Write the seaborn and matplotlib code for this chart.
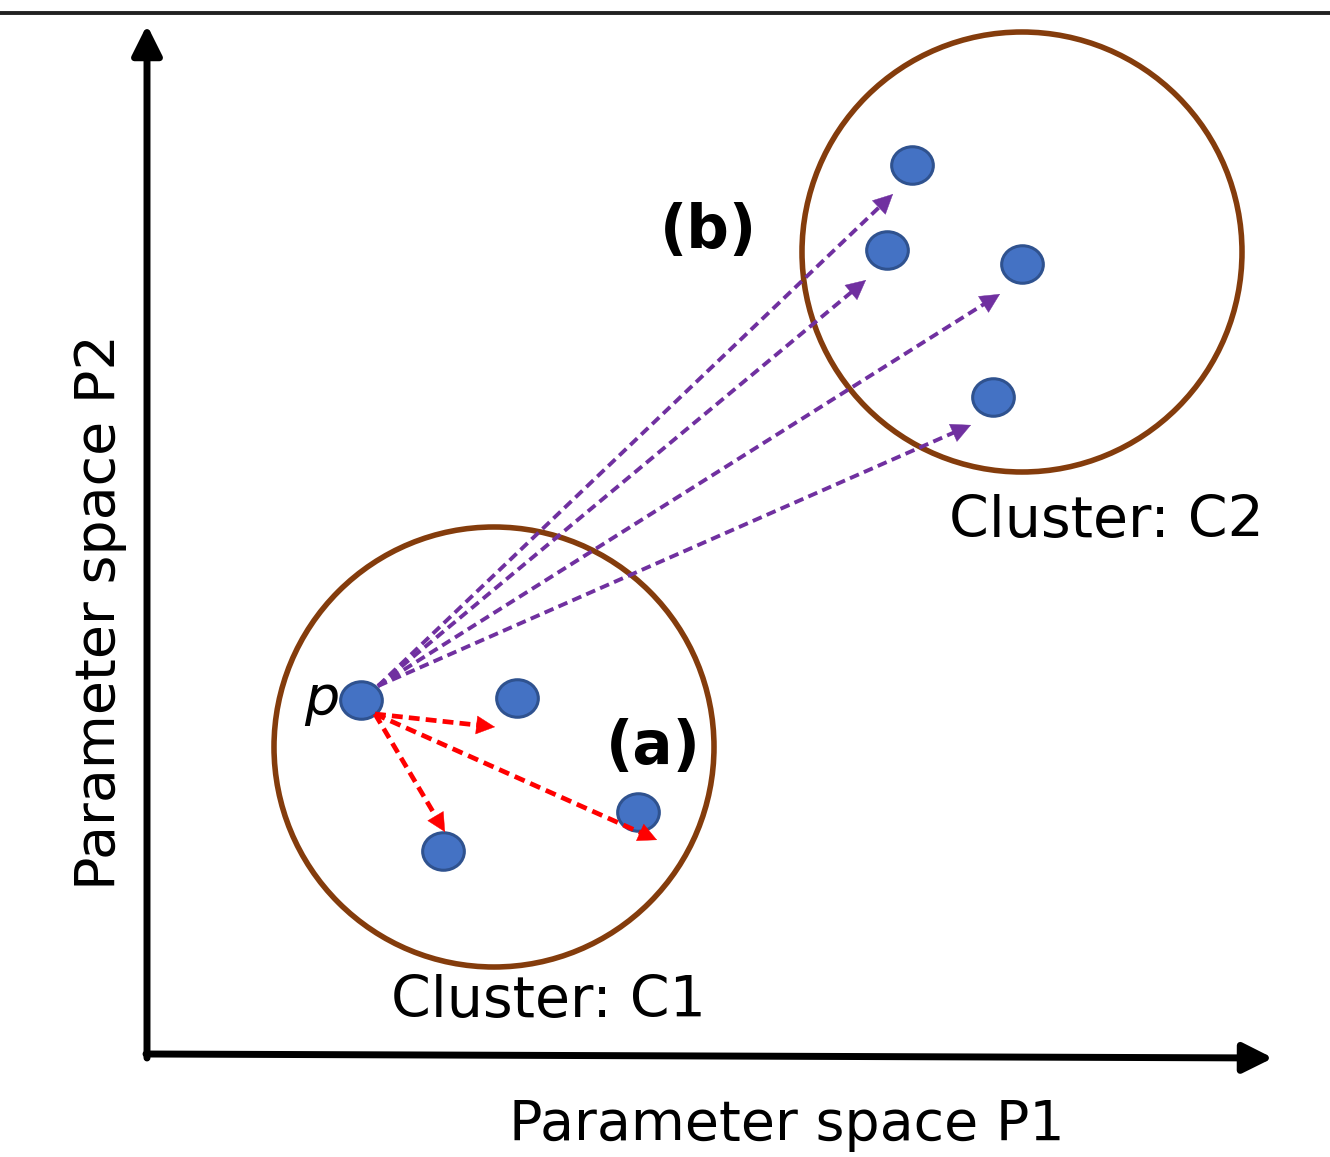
import numpy as np
import pandas as pd
import matplotlib
matplotlib.use("Agg")
import matplotlib.pyplot as plt
from matplotlib.patches import Circle
from matplotlib.path import Path
import seaborn as sns

sns.set_theme(style="white")
plt.rcParams["font.family"] = ["DejaVu Sans"]
plt.rcParams["text.color"] = "black"

# Sample points in the P1/P2 parameter plane (canvas pixel units, y downwards)
c1_x = [361, 517, 638, 443]
c1_y = [700, 698, 812, 851]
c2_x = [912, 887, 1022, 993]
c2_y = [165, 250, 264, 397]

# Cluster outlines: centre x, centre y, radius
cluster_cx = [494, 1022]
cluster_cy = [747, 252]
cluster_r = [220, 220]
cluster_labels = ["Cluster: C1", "Cluster: C2"]
cluster_label_x = [548, 1106]
cluster_label_y = [1002, 522]

# Intra-cluster distances from p (a)
intra_start = (375, 714)
intra_end_x = [495, 445, 657]
intra_end_y = [727, 832, 840]

# Inter-cluster distances from p (b)
inter_start = (378, 686)
inter_end_x = [893, 866, 1000, 971]
inter_end_y = [194, 280, 294, 425]

W, H = 1330, 1157
PX = 72 / 100  # points per pixel at 100 dpi

fig = plt.figure(figsize=(W / 100, H / 100), dpi=100)
ax = fig.add_axes([0, 0, 1, 1])
ax.set_xlim(0, W)
ax.set_ylim(H, 0)
ax.axis("off")

# top rule
ax.plot([0, W], [13, 13], color="#222222", lw=2.8, solid_capstyle="butt")

# coordinate axes with arrow heads (head sizes relative to a 10 pt scale)
axis_head = "-|>,head_length=1.8,head_width=0.9"
ax.annotate("", xy=(147, 25), xytext=(147, 1058),
            arrowprops=dict(arrowstyle=axis_head, lw=5, color="black",
                            shrinkA=0, shrinkB=0, mutation_scale=10))
ax.annotate("", xy=(1273, 1058), xytext=(146, 1054),
            arrowprops=dict(arrowstyle=axis_head, lw=5, color="black",
                            shrinkA=0, shrinkB=0, mutation_scale=10))

# cluster circles
for cx, cy, r in zip(cluster_cx, cluster_cy, cluster_r):
    ax.add_patch(Circle((cx, cy), r, fill=False, ec="#843C0C", lw=4.0, zorder=2))


def dashed_arrow(start, end, color, lw, dash, head_len, head_w):
    """Dashed shaft with a solid triangular head; sizes in pixels."""
    sx, sy = start
    ex, ey = end
    d = np.hypot(ex - sx, ey - sy)
    ux, uy = (ex - sx) / d, (ey - sy) / d
    bx, by = ex - ux * head_len * 0.7, ey - uy * head_len * 0.7
    ax.plot([sx, bx], [sy, by], color=color, lw=lw, ls=(0, dash),
            dash_capstyle="butt", zorder=4)
    hl = head_len * PX / 10
    hw = head_w / 2 * PX / 10
    ax.annotate("", xy=(ex, ey),
                xytext=(ex - ux * head_len * 1.02, ey - uy * head_len * 1.02),
                arrowprops=dict(arrowstyle=f"-|>,head_length={hl:.2f},head_width={hw:.2f}",
                                lw=0.3, color=color, shrinkA=0, shrinkB=0,
                                mutation_scale=10), zorder=4)


# sample dots
pts = pd.DataFrame({"x": c1_x + c2_x, "y": c1_y + c2_y})
circ = Path.unit_circle()
ell = Path(circ.vertices * np.array([1.0, 0.9]), circ.codes)
sns.scatterplot(data=pts, x="x", y="y", ax=ax, marker=ell, s=900,
                color="#4472C4", edgecolor="#2F528F", linewidth=2.2, zorder=3, legend=False)

for ex, ey in zip(intra_end_x, intra_end_y):
    dashed_arrow(intra_start, (ex, ey), "#FF0000", 3.4, (2.3, 1.3), 18, 18)
for ex, ey in zip(inter_end_x, inter_end_y):
    dashed_arrow(inter_start, (ex, ey), "#7030A0", 2.8, (2.5, 1.4), 19, 19)

# labels
for lab, lx, ly in zip(cluster_labels, cluster_label_x, cluster_label_y):
    ax.text(lx, ly, lab, fontsize=41, ha="center", va="center", color="black")
ax.text(322, 699, "p", fontsize=40, style="italic", ha="center", va="center")
ax.text(653, 747, "(a)", fontsize=43, fontweight="bold", ha="center", va="center")
ax.text(708, 232, "(b)", fontsize=43, fontweight="bold", ha="center", va="center")
ax.text(787, 1125, "Parameter space P1", fontsize=40, ha="center", va="center")
ax.text(100, 612, "Parameter space P2", fontsize=40, ha="center", va="center", rotation=90)

fig.savefig("out.png", dpi=100)
